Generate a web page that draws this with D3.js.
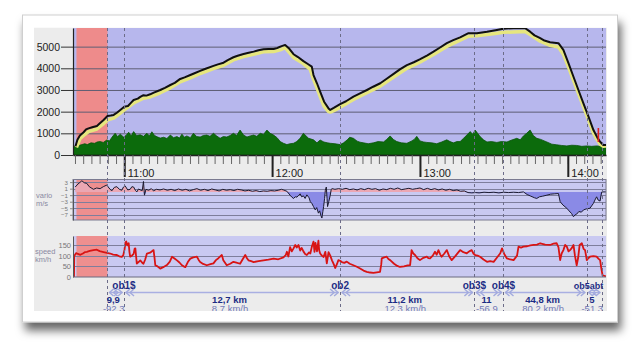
<!DOCTYPE html>
<html>
<head>
<meta charset="utf-8">
<script src="https://cdn.jsdelivr.net/npm/d3@7"></script>
<style>
html, body { margin: 0; padding: 0; background: #fff; }
svg { display: block; font-family: "Liberation Sans", Arial, sans-serif; }
</style>
</head>
<body>
<svg id="chart" width="640" height="363"></svg>
<script>
// times are minutes after 10:00

// barometric altitude (black line)
var baroAlt = [
    [40.2, 400], [41.0, 700], [42.0, 900], [43.5, 1050], [44.5, 1180], [45.5, 1230], [47.0, 1280], [48.9, 1340],
    [50.0, 1450], [51.6, 1615], [53.2, 1800], [54.5, 1820], [55.7, 1850], [57.0, 1950], [58.4, 2080], [60.0, 2230],
    [61.5, 2260], [62.5, 2380], [63.8, 2540], [65.5, 2600], [66.5, 2680], [67.8, 2760], [69.0, 2740], [70.5, 2800],
    [72.0, 2880], [74.6, 3000], [76.5, 3100], [78.7, 3230], [80.5, 3330], [82.7, 3510], [84.5, 3580], [86.8, 3690],
    [88.5, 3770], [90.8, 3880], [93.0, 3980], [96.2, 4110], [98.0, 4180], [100.3, 4260], [102.0, 4380], [104.3, 4510],
    [106.0, 4580], [108.4, 4660], [110.5, 4720], [112.5, 4770], [114.5, 4830], [116.5, 4880], [118.5, 4890], [120.6, 4890],
    [122.0, 4930], [123.3, 5000], [125.3, 5080], [127.0, 4900], [128.7, 4650], [130.5, 4520], [132.7, 4330], [134.5, 4200],
    [136.1, 4080], [136.8, 3690], [138.2, 3310], [139.5, 2920], [141.1, 2460], [142.9, 2150], [143.6, 2080], [145.0, 2170],
    [147.6, 2350], [150.0, 2480], [153.0, 2690], [155.7, 2840], [158.5, 3000], [161.0, 3150], [163.9, 3310], [166.5, 3520],
    [169.3, 3740], [172.0, 3960], [174.7, 4150], [177.5, 4280], [180.1, 4420], [183.0, 4600], [185.5, 4770], [188.0, 4950],
    [190.9, 5160], [193.5, 5300], [196.3, 5430], [199.7, 5620], [203.1, 5620], [207.2, 5690], [211.2, 5770], [213.9, 5830],
    [218.0, 5850], [222.7, 5850], [224.7, 5690], [226.5, 5520], [228.8, 5390], [230.5, 5280], [232.8, 5200], [236.2, 5160],
    [238.2, 4850], [240.3, 4230], [242.3, 3610], [244.3, 3000], [246.3, 2390], [248.4, 1770], [250.4, 1150], [252.0, 800],
    [253.1, 610], [254.4, 460], [255.5, 460]
];

// gps altitude (yellow line)
var gpsAlt = [
    [40.6, 350], [42.0, 750], [43.5, 900], [45.5, 1080], [48.9, 1200], [51.6, 1450], [53.2, 1620], [55.7, 1700],
    [58.4, 1930], [60.0, 2080], [63.8, 2400], [67.8, 2620], [70.5, 2680], [74.6, 2870], [78.7, 3100], [82.7, 3380],
    [86.8, 3560], [90.8, 3760], [96.2, 3990], [100.3, 4140], [104.3, 4390], [108.4, 4540], [112.5, 4650], [116.5, 4760],
    [120.6, 4770], [123.3, 4850], [125.3, 4950], [128.7, 4500], [132.7, 4220], [135.5, 3950], [136.8, 3500], [138.2, 3100],
    [139.5, 2700], [141.1, 2250], [142.9, 2000], [143.6, 1980], [145.0, 2050], [147.6, 2200], [153.0, 2560], [158.5, 2870],
    [163.9, 3180], [169.3, 3600], [174.7, 4000], [180.1, 4290], [185.5, 4640], [190.9, 5010], [196.3, 5300], [199.7, 5480],
    [203.1, 5500], [207.2, 5560], [211.2, 5620], [213.9, 5660], [218.0, 5680], [222.7, 5700], [224.7, 5560], [228.8, 5250],
    [232.8, 5060], [236.2, 4980], [238.2, 4650], [240.3, 4050], [242.3, 3450], [244.3, 2850], [246.3, 2250], [248.4, 1620],
    [250.4, 1020], [252.0, 700], [253.1, 500], [254.4, 400], [255.5, 420]
];

// terrain elevation (green area)
var terrain = [
    [39.2, 380], [41, 420], [42.5, 470], [44, 520], [45, 480], [46.5, 560], [48, 540], [49, 600], [50.2, 620], [51.5, 580],
    [52.9, 690], [54, 650], [55, 820], [56.3, 1000], [57.3, 850], [58.4, 960], [59.7, 830], [60.7, 900], [61.8, 1050],
    [62.8, 880], [63.8, 1080], [65, 900], [66.5, 930], [67.8, 860], [69.2, 1000], [70.2, 880], [71.2, 1070], [72.3, 900],
    [73.3, 840], [74.6, 780], [76, 820], [77.3, 760], [78.7, 920], [80, 800], [81.4, 850], [82.4, 780], [83.4, 960],
    [84.4, 820], [85.4, 880], [86.8, 800], [88.1, 1000], [89.4, 850], [90.8, 830], [92.1, 900], [93.5, 920], [94.8, 860],
    [96.2, 1000], [97.5, 880], [98.9, 770], [100.2, 850], [101.6, 830], [103, 900], [104.3, 1000], [105.6, 900],
    [107, 1150], [108.4, 920], [109.8, 830], [111.1, 880], [112.5, 920], [113.8, 860], [115.2, 1000], [116.5, 950],
    [117.9, 1150], [119.2, 1000], [120.6, 920], [122, 800], [123.3, 620], [124.6, 540], [126, 480], [127.3, 520],
    [128.7, 540], [130, 620], [131.4, 780], [132.7, 1000], [133.8, 880], [134.8, 770], [136.8, 700], [138.2, 560],
    [139.5, 690], [141, 600], [142.5, 560], [143.6, 540], [145.5, 520], [147.6, 480], [149, 560], [150.5, 700],
    [151.5, 820], [153, 770], [154.5, 640], [155.7, 590], [157.1, 560], [159, 520], [161.1, 560], [163, 620], [165.2, 600],
    [166.5, 720], [167.9, 880], [169.2, 720], [170.6, 620], [172.5, 560], [174.7, 540], [176.5, 640], [177.7, 720],
    [178.7, 860], [180, 650], [181.5, 600], [182.8, 580], [184.8, 560], [186.8, 520], [188.8, 600], [190.9, 700],
    [192.2, 620], [193.6, 560], [195, 620], [196.3, 620], [197.7, 770], [199, 920], [200.4, 1080], [201.4, 950],
    [202.4, 1150], [203.4, 1000], [204.4, 850], [205.8, 700], [207.2, 600], [209, 620], [211.2, 580], [213, 620],
    [215.3, 600], [217, 680], [219.3, 770], [220.7, 700], [222, 880], [223.3, 1000], [224.7, 1150], [226, 900],
    [227.4, 770], [229, 720], [231.5, 600], [233.5, 500], [235.5, 470], [237.5, 440], [239.6, 420], [241.6, 450],
    [243.6, 440], [245.7, 400], [247.7, 420], [249.7, 400], [251.7, 420], [253.5, 400], [255.5, 420]
];

// vario m/s
var vario = [
    [40.1, 1.5], [41.2, 2.4], [42.8, 3.4], [43.8, 2.8], [44.8, 2.6], [45.8, 1.6], [47.5, 0.8], [48.8, 1.2], [50.2, 1.0],
    [51.5, 1.6], [52.9, 2.1], [53.8, 1.2], [54.9, 0.3], [56, 1.4], [57, 1.6], [58, 0.8], [59, 0.5], [59.7, 1.5], [60.4, 1.8],
    [61.4, 0.6], [62.4, 0.8], [63.1, 1.6], [63.8, 1.5], [64.5, 0.5], [65.1, 0.0], [65.8, 0.9], [66.5, 0.6], [67.3, 0.4],
    [67.8, 3.2], [68.2, -1.0], [68.8, 0.8], [69.9, 0.5], [71, 1.0], [71.9, 0.3], [73, 0.8], [74.5, 0.6], [76, 0.9],
    [77.5, 0.5], [79, 0.8], [80.5, 0.4], [82, 0.9], [83.5, 0.5], [85, 0.8], [86.5, 0.3], [88, 0.7], [89.5, 1.0], [91, 0.5],
    [92.5, 0.8], [94, 0.4], [95.5, 0.9], [97, 0.6], [98.5, 0.3], [100, 0.8], [101.5, 0.5], [103, 0.7], [104.5, 0.4],
    [106, 0.8], [107.5, 0.6], [109, 0.3], [110.5, 0.5], [112, 0.2], [113.5, 0.4], [115, 0.1], [116.5, 0.3], [118, 0.2],
    [119.5, 0.4], [121, 0.3], [122.5, 0.5], [123.8, 0.8], [124.6, 0.6], [126, 0.2], [127.3, -1.0], [128, -1.6],
    [128.7, -2.0], [129.4, -1.5], [130.1, -1.6], [130.8, -1.0], [131.4, -0.6], [132, -1.5], [132.7, -1.2], [133.4, -2.0],
    [134.1, -0.9], [135, -1.8], [135.5, -3.0], [136.1, -3.5], [136.8, -4.5], [137.5, -5.5], [138.1, -4.8], [138.8, -6.5],
    [139.3, -5.8], [139.8, -7.2], [140.2, -8.0], [140.6, -6.0], [140.9, -4.5], [141.3, -2.0], [141.6, 0.5], [142.0, 1.5],
    [142.3, -2.0], [142.5, -4.5], [143.0, -3.0], [143.6, -1.0], [144.0, 0.8], [144.3, 1.0], [145.5, 0.8], [147, 1.0],
    [148.5, 0.8], [150, 1.1], [151.5, 0.7], [153, 0.9], [154.5, 0.6], [156, 1.0], [157.5, 0.7], [159, 1.1], [160.5, 0.8],
    [162, 1.0], [163.5, 0.5], [165, 0.9], [166.5, 0.7], [168, 1.1], [169.5, 0.8], [171, 1.2], [172.5, 0.7], [174, 0.9],
    [175.5, 1.1], [177, 0.8], [178.5, 1.0], [180, 1.2], [181.5, 0.7], [183, 1.1], [184.5, 0.7], [186, 1.0], [187.5, 0.6],
    [189, 0.9], [190.5, 0.5], [192, 0.8], [193.5, 0.4], [195, 0.6], [196.5, 0.2], [198, 0.3], [199.5, -0.2], [201, -0.3],
    [202.5, -0.2], [204, -0.3], [206, -0.1], [208, -0.2], [210, -0.1], [212, -0.3], [214, -0.1], [216, -0.2], [218, -0.1],
    [220, -0.2], [222, 0.0], [223.5, -0.8], [225, -1.3], [226.5, -1.8], [227.4, -2.0], [228.5, -1.5], [229.8, -1.3],
    [231.5, -1.0], [233, -0.7], [234.5, -0.6], [236.2, -0.5], [236.9, -3.0], [238, -4.0], [239.6, -5.0], [240.5, -5.8],
    [241.5, -6.6], [242.3, -7.6], [243, -7.0], [243.6, -6.8], [244.5, -6.0], [245.5, -6.2], [246.4, -5.5], [247.5, -5.2],
    [249, -5.0], [250.4, -3.5], [251, -2.5], [251.7, -1.5], [252.3, -2.5], [253.1, -2.8], [253.5, -1.0], [253.8, 0.0],
    [255.5, 0.0]
];

// ground speed km/h
var speed = [
    [39.6, 0], [39.7, 98], [40.5, 112], [41.2, 108], [42.2, 104], [43.2, 110], [44, 116], [44.8, 118], [46, 122], [47.5, 126],
    [48.9, 128], [50, 121], [51.6, 117], [53, 113], [54.3, 110], [55.5, 105], [57, 103], [58, 97], [59, 94], [59.6, 102],
    [60.1, 128], [60.5, 162], [60.8, 166], [61.3, 148], [61.8, 158], [62.1, 118], [62.4, 95], [63.1, 100], [63.8, 108],
    [64.2, 132], [64.5, 134], [64.8, 98], [65.1, 63], [65.8, 70], [66.5, 78], [67.2, 68], [67.8, 62], [68.5, 82], [69.2, 110],
    [70.5, 114], [71.9, 126], [72.3, 88], [72.6, 55], [73.5, 50], [74.6, 39], [75.8, 46], [77.3, 56], [78.5, 72], [79.4, 95],
    [80.4, 87], [81.4, 78], [82.4, 68], [83.4, 55], [84.1, 50], [84.8, 46], [85.8, 70], [86.8, 86], [88, 92], [89.5, 95],
    [90.2, 80], [90.8, 70], [92, 61], [93.5, 55], [95, 60], [96.2, 64], [97.2, 79], [98.2, 88], [99.6, 103], [100.2, 79],
    [101.6, 55], [103, 62], [104.3, 71], [105.5, 67], [107, 62], [108, 82], [109.1, 103], [109.8, 88], [110.4, 78],
    [111.5, 74], [112.5, 70], [114.5, 74], [116.5, 78], [118.5, 81], [120.6, 86], [122.5, 83], [124.6, 92], [125.5, 102],
    [126, 118], [126.6, 96], [127.3, 140], [128, 120], [128.7, 134], [129.4, 150], [130, 138], [130.7, 150], [131.4, 124],
    [132, 136], [132.7, 120], [133.4, 108], [134.1, 103], [135, 115], [135.5, 110], [136.1, 140], [136.8, 166], [137.2, 118],
    [137.6, 160], [138.2, 120], [138.8, 170], [139.1, 125], [139.5, 110], [140.2, 100], [140.9, 94], [141.6, 118],
    [142.2, 64], [142.9, 116], [143.6, 100], [144.3, 78], [145, 60], [145.6, 42], [146.3, 60], [146.9, 79], [147.6, 76],
    [148.3, 70], [149.3, 66], [150.3, 72], [151.5, 62], [153, 55], [154.4, 48], [155.7, 40], [157.1, 30], [158.4, 24],
    [159.8, 21], [161.1, 19], [162.5, 22], [163.8, 24], [164.3, 60], [164.5, 87], [165.5, 92], [166.5, 95], [167.2, 84],
    [167.9, 79], [169.5, 62], [170.8, 52], [171.9, 47], [173.5, 50], [175, 54], [176, 56], [176.4, 100], [176.6, 126],
    [177.3, 110], [178, 103], [179, 88], [180, 79], [181.4, 90], [182.8, 95], [183.4, 88], [184.1, 87], [185.2, 100],
    [186.1, 118], [186.8, 104], [187.5, 126], [188.2, 106], [188.8, 95], [189.9, 110], [190.9, 126], [191.9, 96],
    [192.9, 79], [194.5, 100], [196.3, 126], [197.6, 116], [199, 111], [200, 120], [201, 126], [201.7, 110], [202.4, 103],
    [203.4, 100], [204.4, 95], [205.8, 82], [207.2, 71], [208.5, 74], [209.9, 71], [211.2, 90], [212.6, 111], [213.3, 134],
    [214.2, 108], [215.3, 87], [216.6, 82], [218, 79], [219.4, 100], [220, 142], [221, 138], [222, 142], [223.5, 144],
    [224.8, 148], [226.1, 150], [227.5, 152], [228.8, 158], [230.8, 152], [232.8, 150], [234.2, 156], [235.5, 158],
    [236.2, 140], [236.9, 79], [237.5, 110], [238.2, 126], [238.9, 150], [239.6, 142], [240.3, 120], [240.9, 126],
    [241.6, 135], [242.3, 150], [242.9, 100], [243.6, 55], [244.2, 90], [244.8, 150], [245.7, 158], [246.4, 132], [247, 126],
    [247.4, 100], [247.7, 79], [248.3, 88], [249, 95], [250.4, 98], [251.7, 95], [252.4, 86], [253.1, 79], [253.6, 40],
    [254.1, 8], [255.5, 3]
];

// tow phase (red band) and landing marker
var towPhase = [40.6, 53.2];
var landingMark = [252.4, 600, 1250];

// turnpoints (dashed lines) and legs
var tpTimes = [53.2, 59.9, 147.6, 202.1, 213.9, 247.7, 253.8];
var tpNames = ["", "ob1$", "ob2", "ob3$", "ob4$", "ob5", "abt"];
var legDist = ["9,9", "12,7 km", "11,2 km", "11", "44,8 km", "5"];
var legSpeed = ["-92,3", "8,7 km/h", "12,3 km/h", "-56,9", "80,2 km/h", "-51,3"];

// tick values
var altTicks = [0, 1000, 2000, 3000, 4000, 5000];
var varioTicks = [3, 1, -1, -3, -5, -7];
var speedTicks = [0, 50, 100, 150];
var hourTicks = [60, 120, 180, 240];
var hourLabels = ["11:00", "12:00", "13:00", "14:00"];


var left = 73, right = 606;

var x = d3.scaleLinear().domain([39.2, 255.5]).range([left, right]);
var yAlt = d3.scaleLinear().domain([0, 5860]).range([155, 28]);
var yVario = d3.scaleLinear().domain([-8.6, 3.8]).range([220, 179.5]);
var ySpeed = d3.scaleLinear().domain([0, 192]).range([277, 236]);

var svg = d3.select("#chart");
var defs = svg.append("defs");

var shadow = defs.append("filter")
    .attr("id", "shadow")
    .attr("x", "-10%").attr("y", "-10%")
    .attr("width", "125%").attr("height", "130%");
shadow.append("feDropShadow")
    .attr("dx", 3).attr("dy", 8)
    .attr("stdDeviation", 5)
    .attr("flood-color", "#000")
    .attr("flood-opacity", 0.6);

function addClip (id, x0, y0, w, h) {
    defs.append("clipPath").attr("id", id)
        .append("rect").attr("x", x0).attr("y", y0).attr("width", w).attr("height", h);
}
addClip("screen-clip", 34, 27.5, 573, 283.5);
addClip("main-clip", left, 28, right - left, 127);
addClip("vario-clip", left, 179.5, right - left, 40.5);
addClip("speed-clip", left, 236, right - left, 41);

// the photo card
svg.append("rect")
    .attr("x", 22.5).attr("y", 15)
    .attr("width", 595).attr("height", 307)
    .attr("fill", "#fff")
    .attr("stroke", "#cfcfcf")
    .attr("filter", "url(#shadow)");

var screen = svg.append("g").attr("clip-path", "url(#screen-clip)");

screen.append("rect")
    .attr("x", 34).attr("y", 27.5)
    .attr("width", 573).attr("height", 283.5)
    .attr("fill", "#ececec");

// ---------- main altitude panel ----------
var main = screen.append("g");
var mainPlot = main.append("g").attr("clip-path", "url(#main-clip)");

mainPlot.append("rect")
    .attr("x", left).attr("y", 28)
    .attr("width", right - left).attr("height", 127)
    .attr("fill", "#b7b7ed");

mainPlot.append("rect")
    .attr("x", x(towPhase[0])).attr("y", 28)
    .attr("width", x(towPhase[1]) - x(towPhase[0])).attr("height", 127)
    .attr("fill", "#ee8b8b");

mainPlot.selectAll("line.grid")
    .data(altTicks.slice(1))
    .enter().append("line")
        .attr("class", "grid")
        .attr("x1", left).attr("x2", right)
        .attr("y1", function (d) { return yAlt(d) + 0.5; })
        .attr("y2", function (d) { return yAlt(d) + 0.5; })
        .attr("stroke", "#5e5e74")
        .attr("stroke-width", 1);

mainPlot.append("path")
    .datum(terrain)
    .attr("fill", "#0c6b0c")
    .attr("stroke", "#0a560a")
    .attr("stroke-width", 0.8)
    .attr("d", d3.area()
        .x(function (d) { return x(d[0]); })
        .y0(yAlt(0))
        .y1(function (d) { return yAlt(d[1]); }));

mainPlot.append("path")
    .datum(gpsAlt)
    .attr("fill", "none")
    .attr("stroke", "#e6e67e")
    .attr("stroke-width", 3.5)
    .attr("stroke-linejoin", "round")
    .attr("d", d3.line()
        .x(function (d) { return x(d[0]); })
        .y(function (d) { return yAlt(d[1]); }));

mainPlot.append("path")
    .datum(baroAlt)
    .attr("fill", "none")
    .attr("stroke", "#111")
    .attr("stroke-width", 2)
    .attr("stroke-linejoin", "round")
    .attr("d", d3.line()
        .x(function (d) { return x(d[0]); })
        .y(function (d) { return yAlt(d[1]); }));

mainPlot.append("line")
    .attr("x1", x(landingMark[0])).attr("x2", x(landingMark[0]))
    .attr("y1", yAlt(landingMark[1])).attr("y2", yAlt(landingMark[2]))
    .attr("stroke", "#e02020")
    .attr("stroke-width", 1.6);

// y axis
var altAxis = main.append("g")
    .attr("transform", "translate(" + left + ",0)")
    .call(d3.axisLeft(yAlt).tickValues(altTicks).tickSize(12).tickPadding(1).tickSizeOuter(0)
        .tickFormat(d3.format("d")));
altAxis.select("path").attr("stroke", "#222").attr("stroke-width", 1.2);
altAxis.selectAll("line").attr("stroke", "#333");
altAxis.selectAll("text")
    .attr("font-size", 10.5)
    .attr("font-family", "Liberation Sans, Arial, sans-serif")
    .attr("fill", "#222");

// time axis: minor ticks every 200 s, major ticks on the hour
var minorTicks = d3.range(40, 256, 10 / 3);
var minorAxis = main.append("g")
    .attr("transform", "translate(0,155)")
    .call(d3.axisBottom(x).tickValues(minorTicks).tickSize(9).tickFormat("").tickSizeOuter(0));
minorAxis.select("path").attr("stroke", "#222").attr("stroke-width", 1.5);
minorAxis.selectAll("line").attr("stroke", "#666");

var majorAxis = main.append("g")
    .attr("transform", "translate(0,155)")
    .call(d3.axisBottom(x).tickValues(hourTicks).tickSize(22).tickSizeOuter(0)
        .tickFormat(function (d, i) { return hourLabels[i]; }));
majorAxis.select("path").remove();
majorAxis.selectAll("line").attr("stroke", "#222").attr("stroke-width", 2);
majorAxis.selectAll("text")
    .attr("x", 3)
    .attr("y", 21.5)
    .attr("dy", 0)
    .attr("text-anchor", "start")
    .attr("font-size", 11)
    .attr("font-family", "Liberation Sans, Arial, sans-serif")
    .attr("fill", "#222");

// ---------- vario panel ----------
var varioPanel = screen.append("g");
var varioPlot = varioPanel.append("g").attr("clip-path", "url(#vario-clip)");

varioPlot.append("rect")
    .attr("x", left).attr("y", 179.5)
    .attr("width", right - left).attr("height", 40.5)
    .attr("fill", "#c9c9f1");

varioPlot.append("rect")
    .attr("x", x(towPhase[0])).attr("y", 179.5)
    .attr("width", x(towPhase[1]) - x(towPhase[0])).attr("height", 40.5)
    .attr("fill", "#ee8f8f");

varioPlot.selectAll("line.grid")
    .data(varioTicks)
    .enter().append("line")
        .attr("class", "grid")
        .attr("x1", left).attr("x2", right)
        .attr("y1", function (d) { return Math.round(yVario(d)) + 0.5; })
        .attr("y2", function (d) { return Math.round(yVario(d)) + 0.5; })
        .attr("stroke", "#7e7e9c")
        .attr("stroke-width", 1);

varioPlot.append("path")
    .datum(vario)
    .attr("fill", "#eba7b3")
    .attr("d", d3.area()
        .x(function (d) { return x(d[0]); })
        .y0(yVario(0))
        .y1(function (d) { return yVario(Math.max(0, d[1])); }));

varioPlot.append("path")
    .datum(vario)
    .attr("fill", "#8a8ae6")
    .attr("d", d3.area()
        .x(function (d) { return x(d[0]); })
        .y0(yVario(0))
        .y1(function (d) { return yVario(Math.min(0, d[1])); }));

varioPlot.append("path")
    .datum(vario)
    .attr("fill", "none")
    .attr("stroke", "#1a1a30")
    .attr("stroke-width", 1)
    .attr("d", d3.line()
        .x(function (d) { return x(d[0]); })
        .y(function (d) { return yVario(d[1]); }));

varioPanel.append("rect")
    .attr("x", left).attr("y", 179.5)
    .attr("width", right - left).attr("height", 40.5)
    .attr("fill", "none")
    .attr("stroke", "#7a7a90");

var varioAxis = varioPanel.append("g")
    .attr("transform", "translate(" + left + ",0)")
    .call(d3.axisLeft(yVario).tickValues(varioTicks).tickSize(3).tickPadding(2).tickSizeOuter(0));
varioAxis.select("path").attr("stroke", "#555");
varioAxis.selectAll("line").attr("stroke", "#888");
varioAxis.selectAll("text")
    .attr("font-size", 6.2)
    .attr("font-family", "Liberation Sans, Arial, sans-serif")
    .attr("fill", "#777");

varioPanel.append("text").attr("x", 36).attr("y", 198)
    .attr("font-size", 7.5).attr("fill", "#8a8aa2").text("vario");
varioPanel.append("text").attr("x", 36).attr("y", 206)
    .attr("font-size", 7.5).attr("fill", "#8a8aa2").text("m/s");

// ---------- speed panel ----------
var speedPanel = screen.append("g");
var speedPlot = speedPanel.append("g").attr("clip-path", "url(#speed-clip)");

speedPlot.append("rect")
    .attr("x", left).attr("y", 236)
    .attr("width", right - left).attr("height", 41)
    .attr("fill", "#c9c9f1");

speedPlot.append("rect")
    .attr("x", x(towPhase[0])).attr("y", 236)
    .attr("width", x(towPhase[1]) - x(towPhase[0])).attr("height", 41)
    .attr("fill", "#ee8f8f");

speedPlot.selectAll("line.grid")
    .data(speedTicks.slice(1))
    .enter().append("line")
        .attr("class", "grid")
        .attr("x1", left).attr("x2", right)
        .attr("y1", function (d) { return Math.round(ySpeed(d)) + 0.5; })
        .attr("y2", function (d) { return Math.round(ySpeed(d)) + 0.5; })
        .attr("stroke", "#7e7e9c")
        .attr("stroke-width", 1);

speedPlot.append("path")
    .datum(speed)
    .attr("fill", "none")
    .attr("stroke", "#d81414")
    .attr("stroke-width", 1.8)
    .attr("stroke-linejoin", "round")
    .attr("d", d3.line()
        .x(function (d) { return x(d[0]); })
        .y(function (d) { return ySpeed(d[1]); }));

var speedAxis = speedPanel.append("g")
    .attr("transform", "translate(" + left + ",0)")
    .call(d3.axisLeft(ySpeed).tickValues(speedTicks).tickSize(0).tickPadding(2).tickSizeOuter(0));
speedAxis.select("path").attr("stroke", "#555");
speedAxis.selectAll("text")
    .attr("font-size", 7.5)
    .attr("font-family", "Liberation Sans, Arial, sans-serif")
    .attr("fill", "#777");

speedPanel.append("line")
    .attr("x1", left).attr("x2", right)
    .attr("y1", ySpeed(0)).attr("y2", ySpeed(0))
    .attr("stroke", "#6a6a80");

speedPanel.append("text").attr("x", 35).attr("y", 254)
    .attr("font-size", 7.5).attr("fill", "#8a8aa2").text("speed");
speedPanel.append("text").attr("x", 35).attr("y", 261.5)
    .attr("font-size", 7.5).attr("fill", "#8a8aa2").text("km/h");

// ---------- turnpoint lines and leg annotations ----------
var notes = screen.append("g");

notes.selectAll("line.tp")
    .data(tpTimes)
    .enter().append("line")
        .attr("class", "tp")
        .attr("x1", function (d) { return Math.round(x(d)) + 0.5; })
        .attr("x2", function (d) { return Math.round(x(d)) + 0.5; })
        .attr("y1", 28).attr("y2", 311)
        .attr("stroke", "#6c6c88")
        .attr("stroke-width", 1)
        .attr("stroke-dasharray", "3,3");

// the last two labels sit side by side, squeezed against the right edge
notes.selectAll("text.tp")
    .data(tpTimes)
    .enter().append("text")
        .attr("class", "tp")
        .attr("x", function (d, i) {
            if (i === tpTimes.length - 1) return x(d) + 1.5;
            if (i === tpTimes.length - 2) return x(d) + 3;
            return x(d);
        })
        .attr("y", 289)
        .attr("text-anchor", function (d, i) {
            if (i === tpTimes.length - 1) return "end";
            if (i === tpTimes.length - 2) return "end";
            return "middle";
        })
        .attr("font-size", function (d, i) { return i >= tpTimes.length - 2 ? 9 : 10; })
        .attr("font-weight", "bold")
        .attr("fill", "#1c2c84")
        .text(function (d, i) { return tpNames[i]; });

var legs = d3.range(tpTimes.length - 1).map(function (i) {
    return { a: tpTimes[i], b: tpTimes[i + 1], dist: legDist[i], speed: legSpeed[i] };
});

var legG = notes.selectAll("g.leg")
    .data(legs)
    .enter().append("g")
        .attr("class", "leg");

legG.append("line")
    .attr("x1", function (d) { return x(d.a) + 1.5; })
    .attr("x2", function (d) { return x(d.b) - 1.5; })
    .attr("y1", 292.5).attr("y2", 292.5)
    .attr("stroke", "#a9afe2")
    .attr("stroke-width", 1.4);

// chevrons pointing outward at both ends of a leg
legG.append("path")
    .attr("fill", "none")
    .attr("stroke", "#a2aade")
    .attr("stroke-width", 1.4)
    .attr("d", function (d) {
        var xa = x(d.a) + 2, xb = x(d.b) - 2, yc = 292.5;
        return "M" + (xa + 4) + "," + (yc - 3.5) + "L" + xa + "," + yc + "L" + (xa + 4) + "," + (yc + 3.5) +
            "M" + (xa + 8) + "," + (yc - 3.5) + "L" + (xa + 4) + "," + yc + "L" + (xa + 8) + "," + (yc + 3.5) +
            "M" + (xb - 4) + "," + (yc - 3.5) + "L" + xb + "," + yc + "L" + (xb - 4) + "," + (yc + 3.5) +
            "M" + (xb - 8) + "," + (yc - 3.5) + "L" + (xb - 4) + "," + yc + "L" + (xb - 8) + "," + (yc + 3.5);
    });

legG.append("text")
    .attr("x", function (d) { return (x(d.a) + x(d.b)) / 2 - 2.5; })
    .attr("y", 302.5)
    .attr("text-anchor", "middle")
    .attr("font-size", 9.5)
    .attr("font-weight", "bold")
    .attr("fill", "#1c2c84")
    .text(function (d) { return d.dist; });

legG.append("text")
    .attr("x", function (d) { return (x(d.a) + x(d.b)) / 2 - 2; })
    .attr("y", 312)
    .attr("text-anchor", "middle")
    .attr("font-size", 9.5)
    .attr("fill", "#737ab8")
    .text(function (d) { return d.speed; });
</script>
</body>
</html>
